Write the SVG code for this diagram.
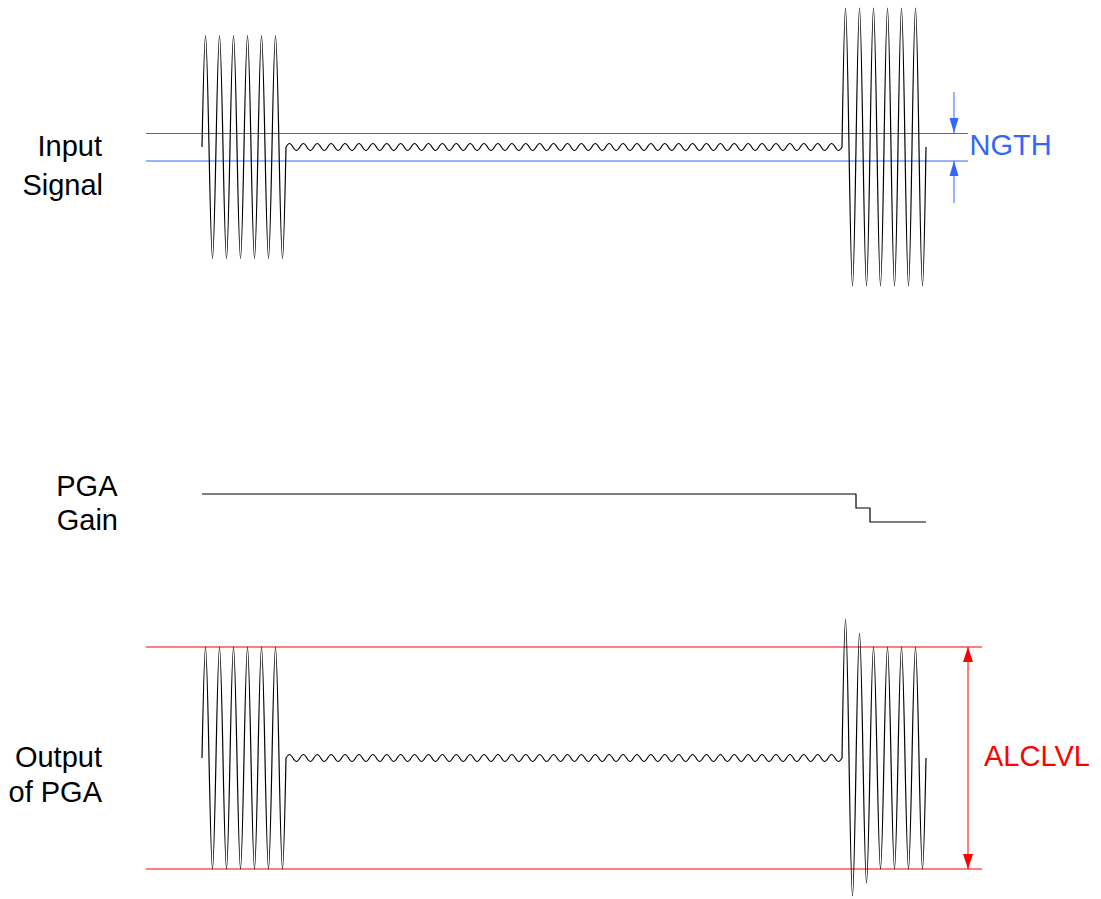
<svg xmlns="http://www.w3.org/2000/svg" width="1101" height="899" viewBox="0 0 1101 899">
<style>
.lbl{font-family:"Liberation Sans",Arial,sans-serif;font-size:29px;fill:#000;text-anchor:end}
.wave{fill:none;stroke:#000;stroke-width:1.2;stroke-linejoin:round}
.blue{stroke:#3366ff;stroke-width:1;fill:none}
.red{stroke:#ff0000;stroke-width:1;fill:none}
</style>
<defs>
<marker id="ab" markerUnits="userSpaceOnUse" markerWidth="15" markerHeight="10" refX="15" refY="5" orient="auto-start-reverse"><path d="M0,0.5 L15,5 L0,9.5 z" fill="#3366ff"/></marker>
<marker id="ar" markerUnits="userSpaceOnUse" markerWidth="15" markerHeight="10" refX="15" refY="5" orient="auto-start-reverse"><path d="M0,0 L15,5 L0,10 z" fill="#ff0000"/></marker>
</defs>
<rect width="1101" height="899" fill="#fff"/>
<g id="labels">
<text class="lbl" x="102" y="156">Input</text>
<text class="lbl" x="103" y="194.5">Signal</text>
<text class="lbl" x="117.5" y="496">PGA</text>
<text class="lbl" x="118" y="530">Gain</text>
<text class="lbl" x="102" y="766.5">Output</text>
<text class="lbl" x="102" y="801.5">of PGA</text>
</g>
<g id="reference-lines">
<line class="blue" x1="146" y1="133.5" x2="968" y2="133.5"/>
<line class="blue" x1="146" y1="161" x2="968" y2="161"/>
<line class="red" x1="146" y1="647" x2="982" y2="647"/>
<line class="red" x1="146" y1="869" x2="982" y2="869"/>
</g>
<g id="input-signal">
<path class="wave" d="M202,147 c1.14,-57.1 2.23,-111.5 3.5,-111.5
c2.54,0 4.46,223 7,223c2.54,0 4.46,-223 7,-223
c2.54,0 4.46,223 7,223c2.54,0 4.46,-223 7,-223
c2.54,0 4.46,223 7,223c2.54,0 4.46,-223 7,-223
c2.54,0 4.46,223 7,223c2.54,0 4.46,-223 7,-223
c2.54,0 4.46,223 7,223c2.54,0 4.46,-223 7,-223
c2.54,0 4.46,223 7,223
c1.27,0 2.36,-54.4 3.5,-111.5
c1.13,-1.79 2.22,-3.5 3.475,-3.5
c2.53,0 4.42,7 6.95,7c2.53,0 4.42,-7 6.95,-7c2.53,0 4.42,7 6.95,7c2.53,0 4.42,-7 6.95,-7c2.53,0 4.42,7 6.95,7c2.53,0 4.42,-7 6.95,-7
c2.53,0 4.42,7 6.95,7c2.53,0 4.42,-7 6.95,-7c2.53,0 4.42,7 6.95,7c2.53,0 4.42,-7 6.95,-7c2.53,0 4.42,7 6.95,7c2.53,0 4.42,-7 6.95,-7
c2.53,0 4.42,7 6.95,7c2.53,0 4.42,-7 6.95,-7c2.53,0 4.42,7 6.95,7c2.53,0 4.42,-7 6.95,-7c2.53,0 4.42,7 6.95,7c2.53,0 4.42,-7 6.95,-7
c2.53,0 4.42,7 6.95,7c2.53,0 4.42,-7 6.95,-7c2.53,0 4.42,7 6.95,7c2.53,0 4.42,-7 6.95,-7c2.53,0 4.42,7 6.95,7c2.53,0 4.42,-7 6.95,-7
c2.53,0 4.42,7 6.95,7c2.53,0 4.42,-7 6.95,-7c2.53,0 4.42,7 6.95,7c2.53,0 4.42,-7 6.95,-7c2.53,0 4.42,7 6.95,7c2.53,0 4.42,-7 6.95,-7
c2.53,0 4.42,7 6.95,7c2.53,0 4.42,-7 6.95,-7c2.53,0 4.42,7 6.95,7c2.53,0 4.42,-7 6.95,-7c2.53,0 4.42,7 6.95,7c2.53,0 4.42,-7 6.95,-7
c2.53,0 4.42,7 6.95,7c2.53,0 4.42,-7 6.95,-7c2.53,0 4.42,7 6.95,7c2.53,0 4.42,-7 6.95,-7c2.53,0 4.42,7 6.95,7c2.53,0 4.42,-7 6.95,-7
c2.53,0 4.42,7 6.95,7c2.53,0 4.42,-7 6.95,-7c2.53,0 4.42,7 6.95,7c2.53,0 4.42,-7 6.95,-7c2.53,0 4.42,7 6.95,7c2.53,0 4.42,-7 6.95,-7
c2.53,0 4.42,7 6.95,7c2.53,0 4.42,-7 6.95,-7c2.53,0 4.42,7 6.95,7c2.53,0 4.42,-7 6.95,-7c2.53,0 4.42,7 6.95,7c2.53,0 4.42,-7 6.95,-7
c2.53,0 4.42,7 6.95,7c2.53,0 4.42,-7 6.95,-7c2.53,0 4.42,7 6.95,7c2.53,0 4.42,-7 6.95,-7c2.53,0 4.42,7 6.95,7c2.53,0 4.42,-7 6.95,-7
c2.53,0 4.42,7 6.95,7c2.53,0 4.42,-7 6.95,-7c2.53,0 4.42,7 6.95,7c2.53,0 4.42,-7 6.95,-7c2.53,0 4.42,7 6.95,7c2.53,0 4.42,-7 6.95,-7
c2.53,0 4.42,7 6.95,7c2.53,0 4.42,-7 6.95,-7c2.53,0 4.42,7 6.95,7c2.53,0 4.42,-7 6.95,-7c2.53,0 4.42,7 6.95,7c2.53,0 4.42,-7 6.95,-7
c2.53,0 4.42,7 6.95,7c2.53,0 4.42,-7 6.95,-7c2.53,0 4.42,7 6.95,7c2.53,0 4.42,-7 6.95,-7c2.53,0 4.42,7 6.95,7c2.53,0 4.42,-7 6.95,-7
c2.53,0 4.42,7 6.95,7
c1.26,0 2.34,-1.71 3.475,-3.5
c1.14,-71.2 2.23,-139 3.5,-139
c2.54,0 4.46,278 7,278c2.54,0 4.46,-278 7,-278
c2.54,0 4.46,278 7,278c2.54,0 4.46,-278 7,-278
c2.54,0 4.46,278 7,278c2.54,0 4.46,-278 7,-278
c2.54,0 4.46,278 7,278c2.54,0 4.46,-278 7,-278
c2.54,0 4.46,278 7,278c2.54,0 4.46,-278 7,-278
c2.54,0 4.46,278 7,278
c1.27,0 2.36,-67.8 3.5,-139"/>
</g>
<g id="pga-gain">
<polyline class="wave" points="202,494 856,494 856,508 870,508 870,522 926,522"/>
</g>
<g id="output-of-pga">
<path class="wave" d="M202,758 c1.14,-56.9 2.23,-111 3.5,-111
c2.54,0 4.46,222 7,222c2.54,0 4.46,-222 7,-222
c2.54,0 4.46,222 7,222c2.54,0 4.46,-222 7,-222
c2.54,0 4.46,222 7,222c2.54,0 4.46,-222 7,-222
c2.54,0 4.46,222 7,222c2.54,0 4.46,-222 7,-222
c2.54,0 4.46,222 7,222c2.54,0 4.46,-222 7,-222
c2.54,0 4.46,222 7,222
c1.27,0 2.36,-54.1 3.5,-111
c1.13,-1.79 2.22,-3.5 3.475,-3.5
c2.53,0 4.42,7 6.95,7c2.53,0 4.42,-7 6.95,-7c2.53,0 4.42,7 6.95,7c2.53,0 4.42,-7 6.95,-7c2.53,0 4.42,7 6.95,7c2.53,0 4.42,-7 6.95,-7
c2.53,0 4.42,7 6.95,7c2.53,0 4.42,-7 6.95,-7c2.53,0 4.42,7 6.95,7c2.53,0 4.42,-7 6.95,-7c2.53,0 4.42,7 6.95,7c2.53,0 4.42,-7 6.95,-7
c2.53,0 4.42,7 6.95,7c2.53,0 4.42,-7 6.95,-7c2.53,0 4.42,7 6.95,7c2.53,0 4.42,-7 6.95,-7c2.53,0 4.42,7 6.95,7c2.53,0 4.42,-7 6.95,-7
c2.53,0 4.42,7 6.95,7c2.53,0 4.42,-7 6.95,-7c2.53,0 4.42,7 6.95,7c2.53,0 4.42,-7 6.95,-7c2.53,0 4.42,7 6.95,7c2.53,0 4.42,-7 6.95,-7
c2.53,0 4.42,7 6.95,7c2.53,0 4.42,-7 6.95,-7c2.53,0 4.42,7 6.95,7c2.53,0 4.42,-7 6.95,-7c2.53,0 4.42,7 6.95,7c2.53,0 4.42,-7 6.95,-7
c2.53,0 4.42,7 6.95,7c2.53,0 4.42,-7 6.95,-7c2.53,0 4.42,7 6.95,7c2.53,0 4.42,-7 6.95,-7c2.53,0 4.42,7 6.95,7c2.53,0 4.42,-7 6.95,-7
c2.53,0 4.42,7 6.95,7c2.53,0 4.42,-7 6.95,-7c2.53,0 4.42,7 6.95,7c2.53,0 4.42,-7 6.95,-7c2.53,0 4.42,7 6.95,7c2.53,0 4.42,-7 6.95,-7
c2.53,0 4.42,7 6.95,7c2.53,0 4.42,-7 6.95,-7c2.53,0 4.42,7 6.95,7c2.53,0 4.42,-7 6.95,-7c2.53,0 4.42,7 6.95,7c2.53,0 4.42,-7 6.95,-7
c2.53,0 4.42,7 6.95,7c2.53,0 4.42,-7 6.95,-7c2.53,0 4.42,7 6.95,7c2.53,0 4.42,-7 6.95,-7c2.53,0 4.42,7 6.95,7c2.53,0 4.42,-7 6.95,-7
c2.53,0 4.42,7 6.95,7c2.53,0 4.42,-7 6.95,-7c2.53,0 4.42,7 6.95,7c2.53,0 4.42,-7 6.95,-7c2.53,0 4.42,7 6.95,7c2.53,0 4.42,-7 6.95,-7
c2.53,0 4.42,7 6.95,7c2.53,0 4.42,-7 6.95,-7c2.53,0 4.42,7 6.95,7c2.53,0 4.42,-7 6.95,-7c2.53,0 4.42,7 6.95,7c2.53,0 4.42,-7 6.95,-7
c2.53,0 4.42,7 6.95,7c2.53,0 4.42,-7 6.95,-7c2.53,0 4.42,7 6.95,7c2.53,0 4.42,-7 6.95,-7c2.53,0 4.42,7 6.95,7c2.53,0 4.42,-7 6.95,-7
c2.53,0 4.42,7 6.95,7c2.53,0 4.42,-7 6.95,-7c2.53,0 4.42,7 6.95,7c2.53,0 4.42,-7 6.95,-7c2.53,0 4.42,7 6.95,7c2.53,0 4.42,-7 6.95,-7
c2.53,0 4.42,7 6.95,7
c1.26,0 2.34,-1.71 3.475,-3.5
c1.14,-71.2 2.23,-139 3.5,-139
c2.54,0 4.46,277 7,277
c2.54,0 4.46,-263 7,-263
c2.54,0 4.46,250 7,250
c2.54,0 4.46,-236 7,-236
c2.54,0 4.46,222 7,222c2.54,0 4.46,-222 7,-222
c2.54,0 4.46,222 7,222c2.54,0 4.46,-222 7,-222
c2.54,0 4.46,222 7,222c2.54,0 4.46,-222 7,-222
c2.54,0 4.46,222 7,222
c1.27,0 2.36,-54.1 3.5,-111"/>
</g>
<g id="connectors">
<line class="blue" x1="954" y1="92" x2="954" y2="133" marker-end="url(#ab)"/>
<line class="blue" x1="954" y1="203" x2="954" y2="161" marker-end="url(#ab)"/>
<line class="red" x1="968" y1="647" x2="968" y2="869" marker-start="url(#ar)" marker-end="url(#ar)"/>
</g>
<g id="ngth">
<text x="969.5" y="155" style="font-family:'Liberation Sans',Arial,sans-serif;font-size:29px;fill:#3366ff">NGTH</text>
</g>
<g id="alclvl">
<text x="984" y="766" style="font-family:'Liberation Sans',Arial,sans-serif;font-size:29px;fill:#ff0000">ALCLVL</text>
</g>
</svg>
